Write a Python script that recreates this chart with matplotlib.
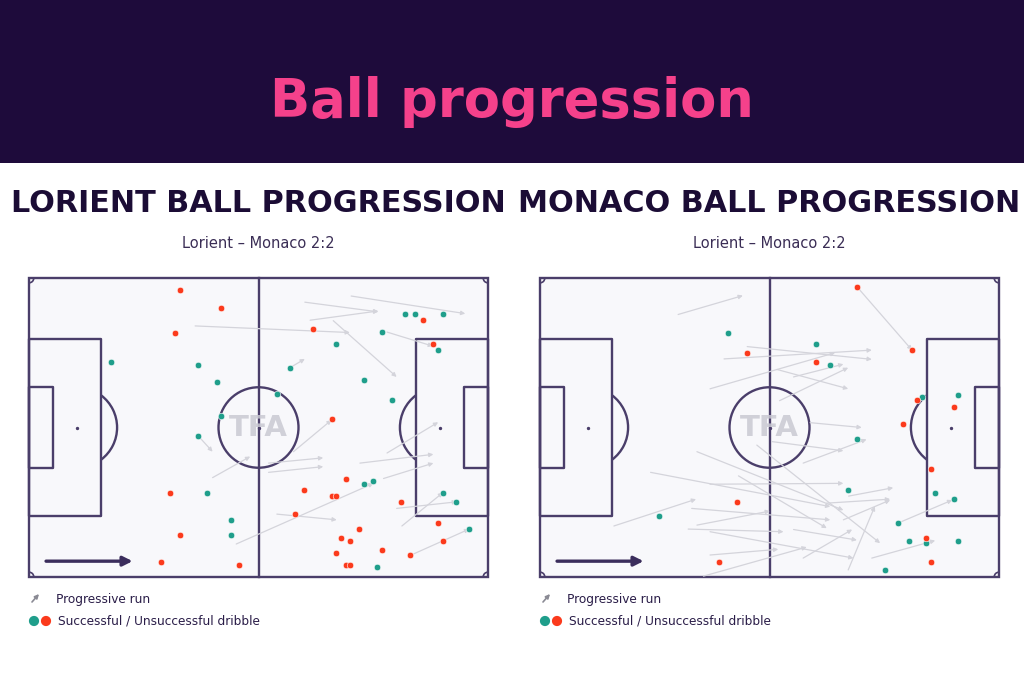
import numpy as np
import matplotlib.pyplot as plt
from matplotlib.patches import Rectangle, Arc, Circle

# colours
BANNER = '#1e0b3b'
PINK = '#f5418b'
NAVY = '#1b0c35'
LINE = '#4a3e6a'
GRASS = '#f8f8fb'
TEAL = '#1f9e8b'
RED = '#fb3a1c'
ARROW = '#d4d4db'

# all positions in metres on a 105 x 68 pitch, y from the bottom touchline
# Lorient
lor_ok_x = [18.7, 38.7, 42.9, 43.9, 56.7, 86.0, 88.2, 94.6, 80.8, 70.3, 93.5, 59.7,
            76.6, 83.0, 38.7, 40.8, 46.1, 46.1, 76.6, 78.8, 97.7, 94.7, 100.7, 79.7]
lor_ok_y = [49.0, 48.2, 44.3, 36.7, 41.6, 59.9, 59.9, 59.9, 55.7, 53.0, 51.7, 47.6,
            44.8, 40.2, 32.1, 19.2, 13.0, 9.6, 21.2, 21.9, 17.0, 19.2, 10.9, 2.3]
lor_bad_x = [34.5, 43.9, 33.4, 65.0, 90.2, 92.4, 69.2, 32.3, 34.5, 30.3, 48.0, 72.5, 63.0, 69.2,
             70.3, 85.0, 60.9, 93.5, 75.5, 71.4, 73.5, 94.7, 80.8, 70.3, 87.2, 72.5, 73.5]
lor_bad_y = [65.2, 61.1, 55.6, 56.4, 58.4, 53.0, 36.0, 19.2, 9.6, 3.5, 2.8, 22.4, 19.7, 18.4,
             18.4, 17.0, 14.3, 12.3, 10.9, 8.9, 8.2, 8.2, 6.2, 5.5, 4.9, 2.7, 2.7]
lor_run_x0 = [63.1, 64.3, 73.7, 38.0, 69.6, 81.9, 59.7, 60.5, 42.0, 38.7, 54.8, 54.8,
              75.7, 81.1, 47.4, 56.7, 84.1, 85.3, 87.2, 81.9]
lor_run_y0 = [62.5, 58.4, 63.9, 57.1, 58.3, 55.7, 47.6, 28.5, 22.6, 32.1, 25.9, 23.8,
              25.9, 22.4, 7.5, 14.3, 15.6, 11.6, 4.9, 28.2]
lor_run_x1 = [79.9, 79.9, 99.8, 73.4, 84.1, 92.4, 63.1, 69.2, 50.6, 42.0, 67.3, 67.3,
              92.5, 92.5, 78.8, 70.4, 97.9, 94.7, 100.7, 93.6]
lor_run_y1 = [60.3, 60.5, 59.9, 55.6, 45.5, 52.5, 49.6, 35.7, 27.4, 28.5, 27.1, 25.1,
              27.9, 25.9, 21.3, 13.0, 17.1, 19.2, 10.9, 35.2]

# Monaco
mon_ok_x = [43.0, 63.1, 66.3, 72.6, 87.3, 95.6, 70.4, 90.4, 94.7, 82.0, 84.3, 88.3, 95.6, 78.9, 27.2]
mon_ok_y = [55.6, 53.0, 48.3, 31.3, 40.9, 41.5, 19.7, 19.2, 17.7, 12.3, 8.2, 7.7, 8.2, 1.5, 13.8]
mon_bad_x = [47.4, 63.1, 72.6, 85.1, 86.2, 94.7, 83.1, 89.5, 88.3, 89.5, 45.1, 41.0]
mon_bad_y = [50.9, 49.0, 65.9, 51.6, 40.2, 38.7, 34.7, 24.6, 8.9, 3.5, 17.1, 3.5]
mon_run_x0 = [31.6, 72.6, 47.4, 42.1, 38.9, 54.2, 58.0, 54.8, 61.8, 53.0, 60.2, 49.6, 35.9,
              25.3, 38.9, 45.4, 34.7, 35.9, 33.9, 38.9, 58.0, 60.2, 70.5, 38.9, 37.4, 16.9,
              70.6, 69.4, 75.9, 82.0, 65.6]
mon_run_y0 = [59.7, 65.9, 52.4, 49.6, 42.8, 47.2, 45.5, 40.1, 35.1, 30.8, 25.9, 30.0, 28.5,
              23.8, 21.1, 23.0, 15.6, 11.8, 10.9, 10.3, 10.8, 4.3, 1.6, 5.0, 0.2, 11.6,
              18.4, 13.0, 4.3, 12.3, 16.8]
mon_run_x1 = [46.4, 85.1, 75.9, 75.9, 67.5, 70.5, 69.4, 70.5, 73.6, 69.4, 74.7, 77.8, 69.4,
              66.4, 69.4, 65.6, 66.4, 52.6, 55.7, 71.7, 72.5, 71.4, 76.6, 54.5, 61.0, 35.7,
              80.8, 80.1, 90.4, 94.3, 80.1]
mon_run_y1 = [64.0, 51.6, 49.5, 51.6, 51.0, 42.8, 48.4, 47.6, 34.0, 28.7, 31.3, 7.7, 15.2,
              16.0, 21.3, 11.1, 13.0, 15.0, 10.3, 4.3, 8.4, 10.8, 16.1, 6.3, 6.8, 17.7,
              20.3, 17.5, 8.3, 17.5, 17.7]

W, H = 1024, 683
PAD = 2.0


def draw_pitch(ax):
    kw = dict(fill=False, edgecolor=LINE, lw=1.7, joinstyle='round', zorder=2)
    ax.add_patch(Rectangle((0, 0), 105, 68, facecolor=GRASS, edgecolor=LINE, lw=1.7, zorder=0))
    ax.plot([52.5, 52.5], [0, 68], color=LINE, lw=1.7, zorder=2)
    ax.add_patch(Circle((52.5, 34), 9.15, **kw))
    ax.add_patch(Rectangle((0, 13.84), 16.5, 40.32, **kw))
    ax.add_patch(Rectangle((88.5, 13.84), 16.5, 40.32, **kw))
    ax.add_patch(Rectangle((0, 24.84), 5.5, 18.32, **kw))
    ax.add_patch(Rectangle((99.5, 24.84), 5.5, 18.32, **kw))
    ax.add_patch(Arc((11, 34), 18.3, 18.3, theta1=-53, theta2=53, color=LINE, lw=1.7, zorder=2))
    ax.add_patch(Arc((94, 34), 18.3, 18.3, theta1=127, theta2=233, color=LINE, lw=1.7, zorder=2))
    for cx, cy, t in [(0, 0, 0), (105, 0, 90), (105, 68, 180), (0, 68, 270)]:
        ax.add_patch(Arc((cx, cy), 2.2, 2.2, theta1=t, theta2=t + 90, color=LINE, lw=1.2, zorder=2))
    ax.scatter([11, 52.5, 94], [34, 34, 34], s=2, color=LINE, zorder=2)
    ax.text(52.5, 34, 'TFA', ha='center', va='center', fontsize=21, fontweight='heavy',
            color='#c9c9d2', alpha=0.85, zorder=3)
    ax.annotate('', xy=(23.7, 3.6), xytext=(3.9, 3.6),
                arrowprops=dict(arrowstyle='-|>', color='#3b2d5c', lw=2.4, mutation_scale=14,
                                shrinkA=0, shrinkB=0), zorder=3)


def draw_side(px0, title, ok_x, ok_y, bad_x, bad_y, rx0, ry0, rx1, ry1):
    sx, sy = 459 / 105, 299 / 68
    ax = fig.add_axes([(px0 - PAD * sx) / W, (H - 577 - PAD * sy) / H,
                       (459 + 2 * PAD * sx) / W, (299 + 2 * PAD * sy) / H])
    ax.set_xlim(-PAD, 105 + PAD)
    ax.set_ylim(-PAD, 68 + PAD)
    ax.axis('off')
    draw_pitch(ax)
    for a, b, c, d in zip(rx0, ry0, rx1, ry1):
        ax.annotate('', xy=(c, d), xytext=(a, b),
                    arrowprops=dict(arrowstyle='-|>', color=ARROW, lw=0.9, mutation_scale=6,
                                    shrinkA=0, shrinkB=0), zorder=4)
    ax.scatter(ok_x, ok_y, s=22, color=TEAL, edgecolor='white', linewidth=0.4, zorder=5)
    ax.scatter(bad_x, bad_y, s=22, color=RED, edgecolor='white', linewidth=0.4, zorder=5)

    cx = (px0 + 229) / W
    fig.text(cx, 1 - 203 / H, title, ha='center', va='center', fontsize=21.8,
             fontweight='heavy', color=NAVY)
    fig.text(cx, 1 - 244 / H, 'Lorient – Monaco 2:2', ha='center', va='center',
             fontsize=10.5, color='#3a2d55')

    # legend
    lx = px0 / W
    fig.text(lx + 27 / W, 1 - 599 / H, 'Progressive run', ha='left', va='center',
             fontsize=8.7, color='#2a1d48')
    fig.text(lx + 29 / W, 1 - 621 / H, 'Successful / Unsuccessful dribble', ha='left',
             va='center', fontsize=8.7, color='#2a1d48')
    leg = fig.add_axes([0, 0, 1, 1], facecolor='none')
    leg.set_xlim(0, W)
    leg.set_ylim(H, 0)
    leg.axis('off')
    leg.annotate('', xy=(px0 + 10, 594), xytext=(px0 + 3, 602),
                 arrowprops=dict(arrowstyle='-|>', color='#8a8a94', lw=1.2, mutation_scale=6,
                                 shrinkA=0, shrinkB=0))
    leg.scatter([px0 + 5, px0 + 17], [621, 621], s=40, color=[TEAL, RED], zorder=5)


fig = plt.figure(figsize=(W / 100, H / 100), dpi=100)
fig.patches.append(Rectangle((0, 1 - 163 / H), 1, 163 / H, transform=fig.transFigure,
                             facecolor=BANNER, edgecolor='none', zorder=0))
fig.text(0.5, 1 - 102 / H, 'Ball progression', ha='center', va='center', fontsize=38,
         fontweight='bold', color=PINK)

draw_side(29, 'LORIENT BALL PROGRESSION', lor_ok_x, lor_ok_y, lor_bad_x, lor_bad_y,
          lor_run_x0, lor_run_y0, lor_run_x1, lor_run_y1)
draw_side(540, 'MONACO BALL PROGRESSION', mon_ok_x, mon_ok_y, mon_bad_x, mon_bad_y,
          mon_run_x0, mon_run_y0, mon_run_x1, mon_run_y1)

fig.savefig('out.png', dpi=100, facecolor='white')
